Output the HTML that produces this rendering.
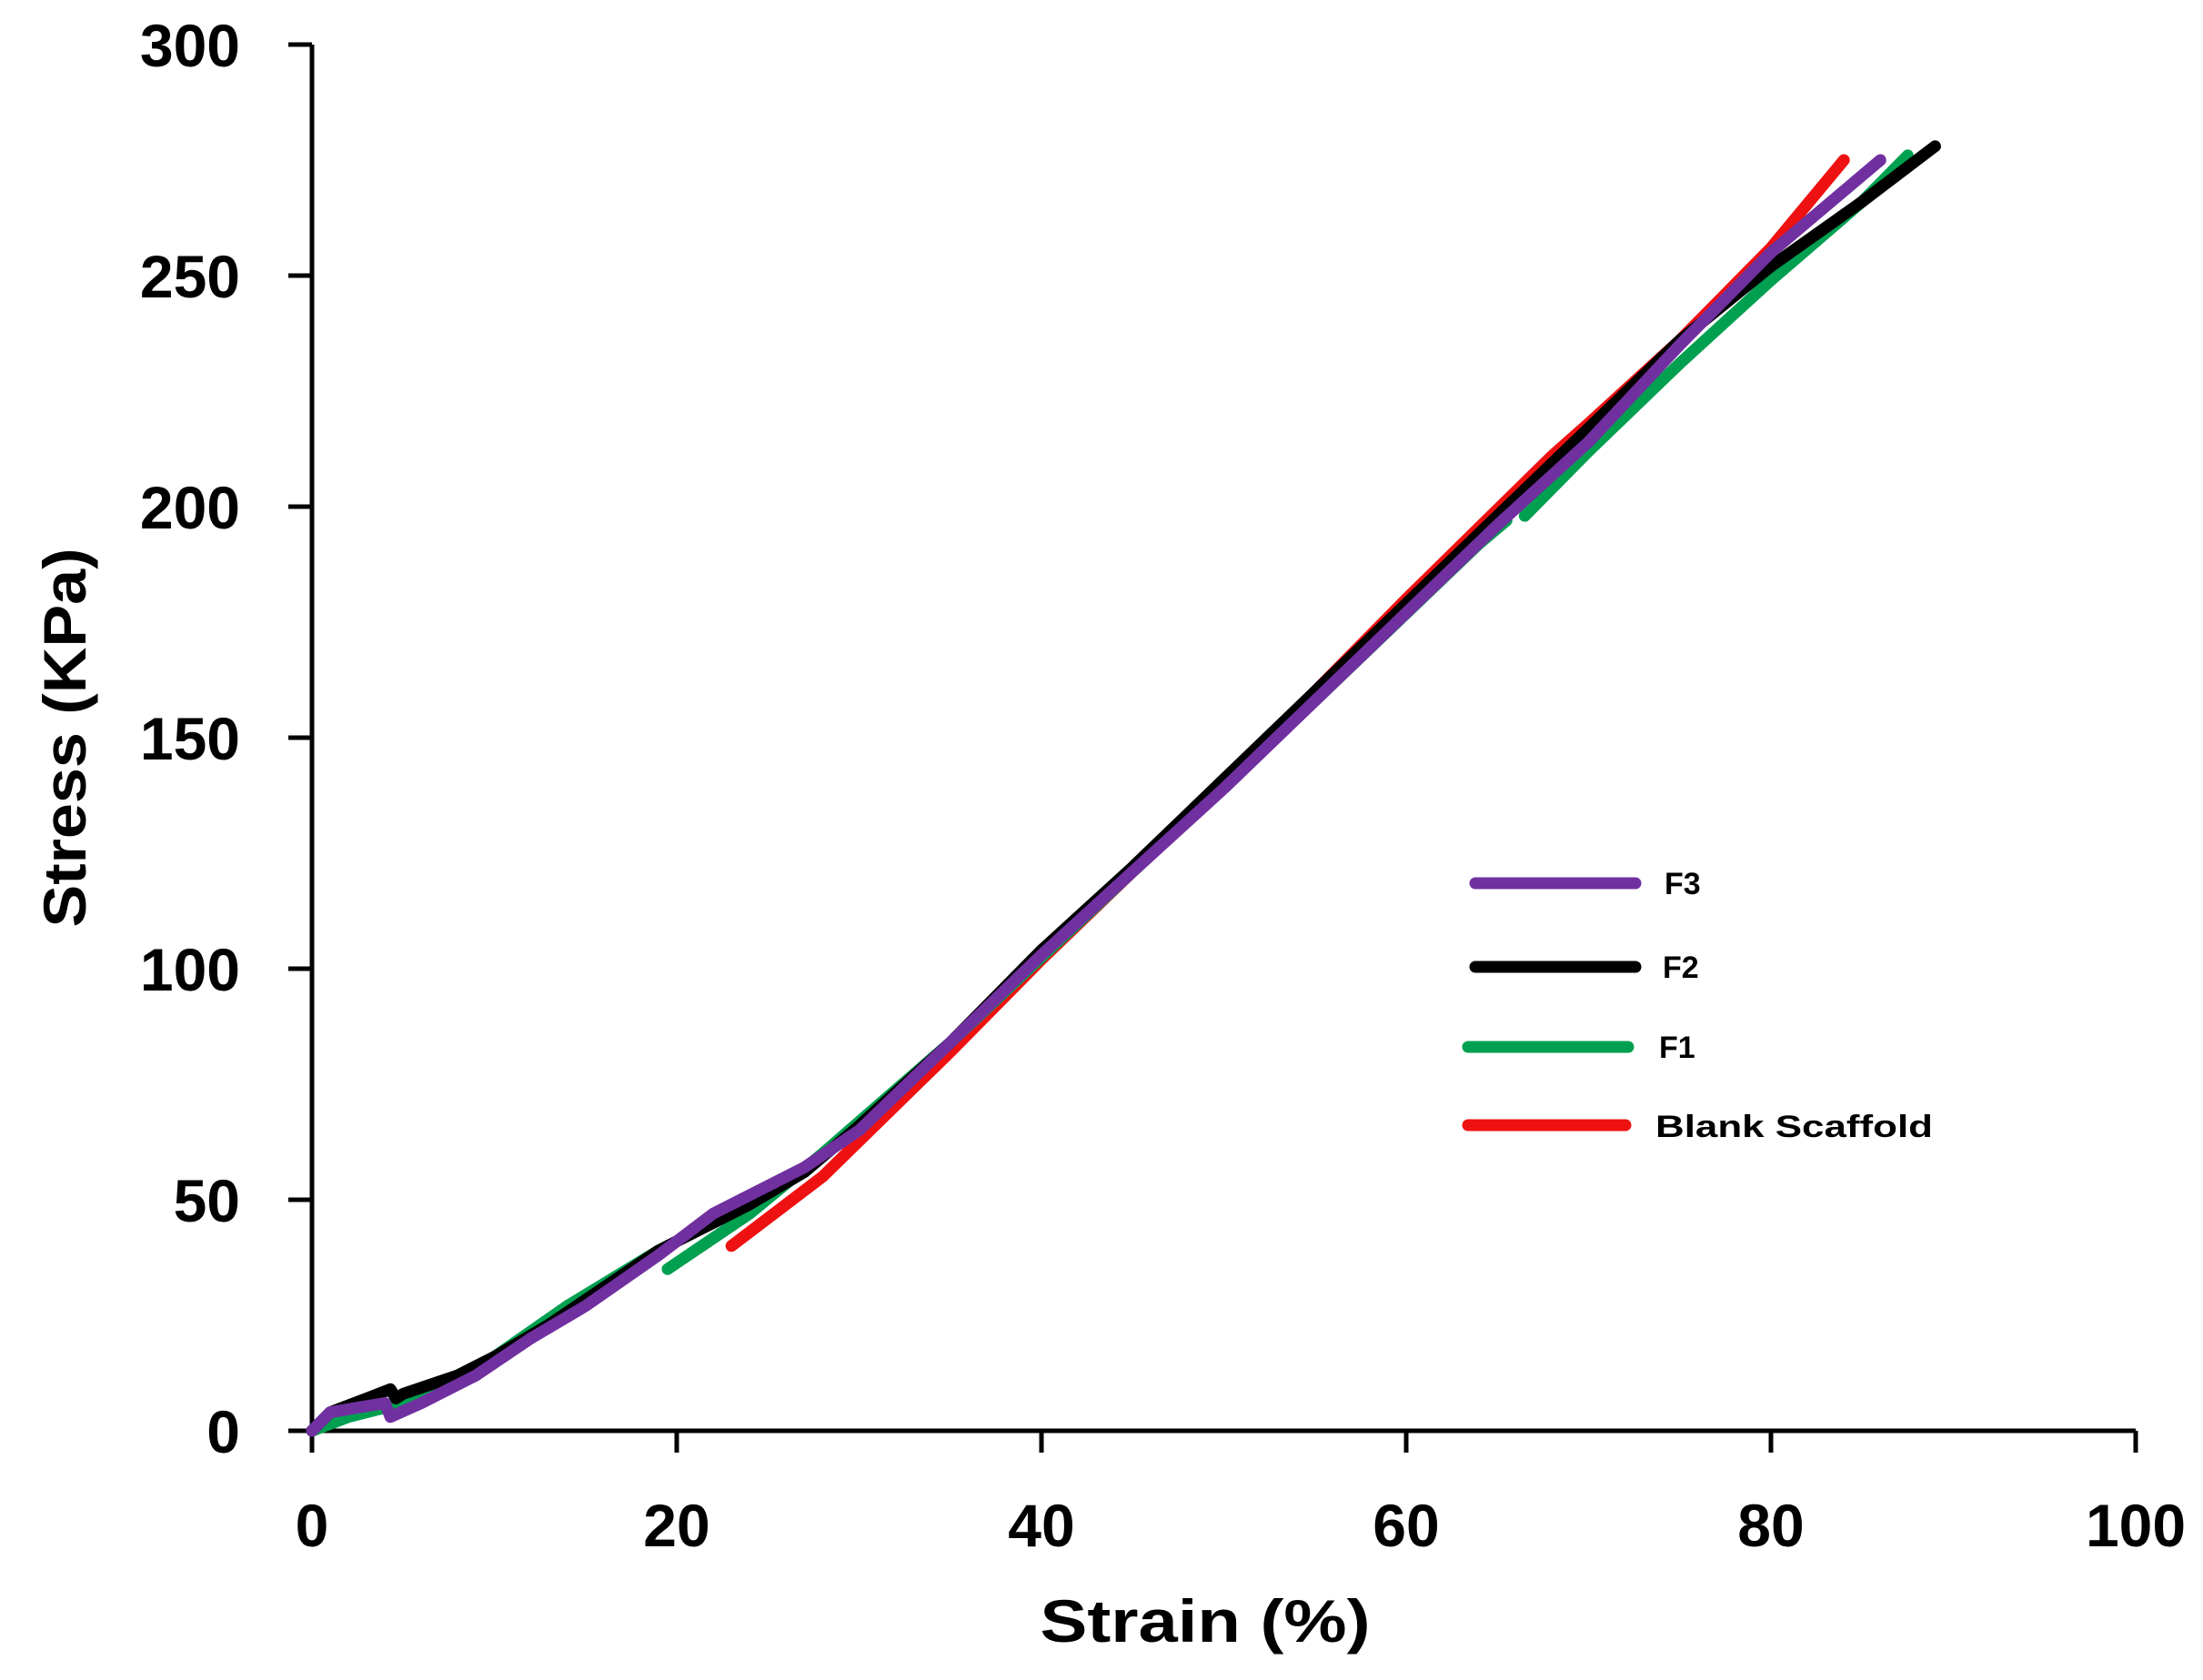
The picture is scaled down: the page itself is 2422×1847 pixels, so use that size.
<!DOCTYPE html>
<html><head><meta charset="utf-8"><style>html,body{margin:0;padding:0;background:#fff}</style></head>
<body>
<svg width="2422" height="1842" viewBox="0 0 2422 1842" xmlns="http://www.w3.org/2000/svg">
<rect width="2422" height="1842" fill="#fff"/>
<g font-family="Liberation Sans, sans-serif" font-weight="bold" fill="#000">
<g font-size="66" text-anchor="end">
<text x="264" y="73">300</text>
<text x="264" y="327">250</text>
<text x="264" y="581">200</text>
<text x="264" y="835">150</text>
<text x="264" y="1089">100</text>
<text x="264" y="1343">50</text>
<text x="264" y="1597">0</text>
</g>
<g font-size="66" text-anchor="middle">
<text x="343" y="1700">0</text>
<text x="744" y="1700">20</text>
<text x="1145" y="1700">40</text>
<text x="1546" y="1700">60</text>
<text x="1947" y="1700">80</text>
<text x="2348" y="1700">100</text>
</g>
<text x="1325" y="1805" font-size="66" text-anchor="middle" textLength="363" lengthAdjust="spacingAndGlyphs">Strain (%)</text>
<text transform="translate(94,811) rotate(-90)" font-size="66" text-anchor="middle" textLength="417" lengthAdjust="spacingAndGlyphs">Stress (KPa)</text>
<g font-size="34">
<text x="1830" y="983">F3</text>
<text x="1828" y="1075">F2</text>
<text x="1824" y="1163">F1</text>
<text x="1820" y="1250" textLength="305" lengthAdjust="spacingAndGlyphs">Blank Scaffold</text>
</g>
</g>
<g stroke-width="13" stroke-linecap="round">
<line x1="1622" y1="971" x2="1798" y2="971" stroke="#7030a0"/>
<line x1="1622" y1="1063" x2="1798" y2="1063" stroke="#000"/>
<line x1="1614" y1="1151" x2="1790" y2="1151" stroke="#00a050"/>
<line x1="1614" y1="1237" x2="1787" y2="1237" stroke="#ee1111"/>
</g>
<g stroke="#000" stroke-width="5" fill="none">
<polyline points="343,49 343,1573 2348,1573"/>
<line x1="317" y1="49" x2="343" y2="49"/>
<line x1="317" y1="303" x2="343" y2="303"/>
<line x1="317" y1="557" x2="343" y2="557"/>
<line x1="317" y1="811" x2="343" y2="811"/>
<line x1="317" y1="1065" x2="343" y2="1065"/>
<line x1="317" y1="1319" x2="343" y2="1319"/>
<line x1="317" y1="1573" x2="343" y2="1573"/>
<line x1="343" y1="1573" x2="343" y2="1597"/>
<line x1="744" y1="1573" x2="744" y2="1597"/>
<line x1="1145" y1="1573" x2="1145" y2="1597"/>
<line x1="1546" y1="1573" x2="1546" y2="1597"/>
<line x1="1947" y1="1573" x2="1947" y2="1597"/>
<line x1="2348" y1="1573" x2="2348" y2="1597"/>
</g>
<g transform="translate(343,1573) scale(20.05,-5.08)" fill="none" stroke-linejoin="round" stroke-linecap="round">
<polyline vector-effect="non-scaling-stroke" stroke="#ee1111" stroke-width="13" points="0,0 0.3,1"/>
<polyline vector-effect="non-scaling-stroke" stroke="#ee1111" stroke-width="13" points="23,40 28,55 35,82 40,102 50,140 60,180 68,211 70,218 75,236 80,256 84,275"/>
<polyline vector-effect="non-scaling-stroke" stroke="#00a050" stroke-width="13" points="0,0 2,3 5,6 10,16 14,27 19,39"/>
<polyline vector-effect="non-scaling-stroke" stroke="#00a050" stroke-width="13" points="19.5,35 24,47 28,60 35,84 45,121 55,158 64,192 65.5,197"/>
<polyline vector-effect="non-scaling-stroke" stroke="#00a050" stroke-width="13" points="66.5,198 70,212 75,231 80,249 85,266 87.5,276"/>
<polyline vector-effect="non-scaling-stroke" stroke="#000" stroke-width="13" points="0,0 1,4 3,7 4.3,9 4.6,7 5,8 8,12 10,16 13,23 16,31 19,39 20,41 22,45 24,49 27,56 30,66 35,84 40,104 45,122 50,141 55,160 60,179 65,198 70,217 75,236 80,252 85,266 89,278"/>
<polyline vector-effect="non-scaling-stroke" stroke="#7030a0" stroke-width="13" points="0,0 1,4 4,6 4.3,3 6,6 9,12 12,20 15,27 19,38 22,47 24,51 27,57 30,65 40,103 50,139 60,177 65,196 70,214 75,235 80,255 86,275"/>
</g>
</svg>
</body></html>
